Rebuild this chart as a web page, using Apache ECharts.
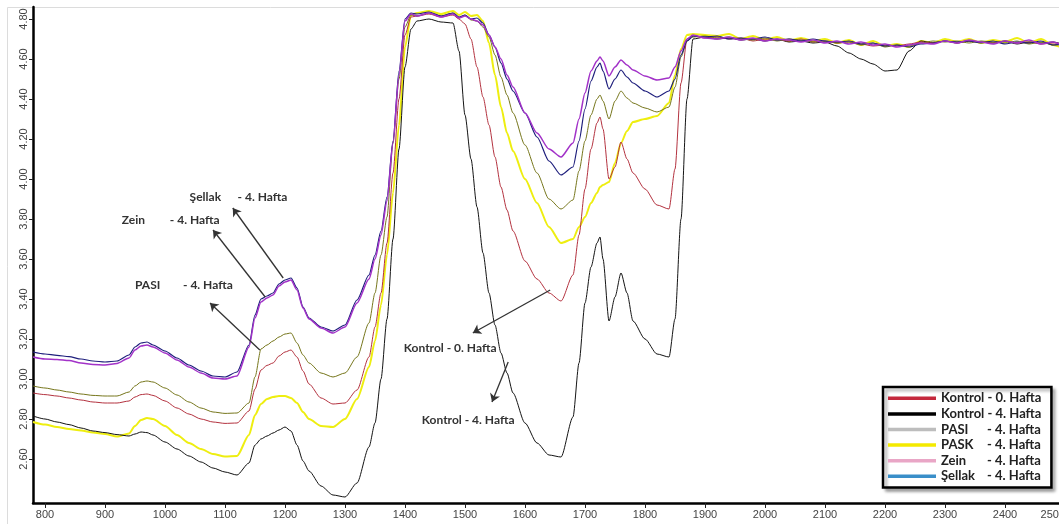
<!DOCTYPE html>
<html>
<head>
<meta charset="utf-8">
<script src="https://cdn.jsdelivr.net/npm/echarts@6/dist/echarts.min.js"></script>
<style>
html, body { margin: 0; padding: 0; background: #fff; }
#chart { width: 1059px; height: 524px; }
</style>
</head>
<body>
<div id="chart"></div>
<script>
// Wavenumber grid shared by all spectra
const wavenumbers = [
  780, 800, 820, 840, 860, 880, 900, 920, 940,
  950, 960, 970, 980,
  1000, 1020, 1040, 1060, 1080, 1100, 1120, 1140,
  1150, 1160, 1170, 1180, 1190, 1200, 1210, 1220, 1230,
  1240, 1260, 1280, 1300, 1320, 1340,
  1350, 1360, 1370, 1380, 1390, 1400, 1410, 1420,
  1440, 1460, 1480,
  1490, 1500, 1510, 1520, 1530, 1540, 1550, 1560, 1570, 1580,
  1600, 1620, 1640, 1660, 1680,
  1690, 1700, 1710, 1720, 1725, 1730, 1740, 1750, 1760, 1770, 1780,
  1800, 1820, 1840,
  1850, 1860, 1870, 1880,
  1900, 1920, 1940, 1960, 1980, 2000, 2020, 2040, 2060, 2080, 2100,
  2120, 2140, 2160, 2180, 2200, 2220, 2240, 2260, 2280, 2300,
  2320, 2340, 2360, 2380, 2400, 2420, 2440, 2460, 2480, 2500
];

const kontrol0 = [
  2.930, 2.922, 2.915, 2.905, 2.895, 2.885, 2.880, 2.880, 2.890,
  2.910, 2.922, 2.925, 2.918,
  2.890, 2.855, 2.825, 2.800, 2.785, 2.778, 2.780, 2.840,
  2.950, 3.045, 3.068, 3.080, 3.115, 3.135, 3.145, 3.110, 3.040,
  2.975, 2.905, 2.875, 2.880, 2.945, 3.110,
  3.260, 3.430, 3.680, 4.030, 4.400, 4.720, 4.810, 4.815,
  4.825, 4.810, 4.820,
  4.800, 4.775, 4.700, 4.560, 4.410, 4.270, 4.110, 3.960, 3.845, 3.740,
  3.590, 3.500, 3.430, 3.390, 3.520,
  3.720, 3.950, 4.150, 4.280, 4.310, 4.250, 4.000, 4.060, 4.185, 4.100, 4.030,
  3.950, 3.870, 3.850,
  4.050, 4.480, 4.700, 4.715,
  4.705, 4.710, 4.700, 4.705, 4.690, 4.700, 4.695, 4.690, 4.700, 4.685, 4.690,
  4.680, 4.685, 4.675, 4.665, 4.670, 4.665, 4.675, 4.685, 4.680, 4.690,
  4.680, 4.690, 4.685, 4.680, 4.690, 4.680, 4.685, 4.675, 4.680, 4.675
];

const kontrol4 = [
  2.815, 2.800, 2.785, 2.772, 2.755, 2.740, 2.732, 2.722, 2.715,
  2.725, 2.735, 2.732, 2.720,
  2.685, 2.650, 2.615, 2.585, 2.555, 2.535, 2.520, 2.580,
  2.670, 2.700, 2.715, 2.730, 2.745, 2.760, 2.740, 2.670, 2.590,
  2.540, 2.465, 2.420, 2.410, 2.480, 2.660,
  2.780, 3.000, 3.300, 3.700, 4.150, 4.560, 4.750, 4.790,
  4.800, 4.785, 4.780,
  4.640, 4.320, 4.100, 3.860, 3.630, 3.430, 3.270, 3.130, 3.030, 2.930,
  2.780, 2.680, 2.620, 2.610, 2.810,
  3.080, 3.380, 3.560, 3.680, 3.710, 3.600, 3.290, 3.410, 3.530, 3.430, 3.290,
  3.200, 3.125, 3.110,
  3.300, 3.800, 4.400, 4.700,
  4.710, 4.700, 4.705, 4.695, 4.700, 4.690, 4.700, 4.685, 4.690, 4.680, 4.685,
  4.665, 4.630, 4.600, 4.575, 4.540, 4.545, 4.640, 4.690, 4.680, 4.690,
  4.680, 4.690, 4.685, 4.680, 4.690, 4.675, 4.685, 4.680, 4.685, 4.670
];

const pasi = [
  2.965, 2.955, 2.945, 2.935, 2.925, 2.918, 2.915, 2.915, 2.935,
  2.965, 2.985, 2.990, 2.985,
  2.955, 2.920, 2.885, 2.855, 2.835, 2.828, 2.830, 2.880,
  3.010, 3.150, 3.170, 3.190, 3.210, 3.225, 3.230, 3.180, 3.120,
  3.080, 3.030, 3.010, 3.030, 3.110, 3.280,
  3.430, 3.620, 3.810, 4.180, 4.500, 4.760, 4.820, 4.815,
  4.830, 4.815, 4.830,
  4.805, 4.820, 4.795, 4.790, 4.760, 4.710, 4.620, 4.510, 4.420, 4.330,
  4.170, 4.030, 3.900, 3.850, 3.895,
  4.040, 4.190, 4.320, 4.400, 4.420, 4.390, 4.300, 4.390, 4.440, 4.405, 4.380,
  4.355, 4.335, 4.360,
  4.460, 4.610, 4.690, 4.710,
  4.715, 4.705, 4.710, 4.700, 4.695, 4.705, 4.690, 4.700, 4.695, 4.685, 4.690,
  4.680, 4.685, 4.670, 4.680, 4.660, 4.670, 4.665, 4.680, 4.690, 4.685,
  4.690, 4.680, 4.690, 4.685, 4.680, 4.690, 4.675, 4.685, 4.670, 4.680
];

const pask = [
  2.785, 2.772, 2.760, 2.750, 2.742, 2.733, 2.725, 2.712, 2.728,
  2.765, 2.795, 2.805, 2.800,
  2.765, 2.720, 2.680, 2.650, 2.625, 2.612, 2.615, 2.720,
  2.820, 2.875, 2.900, 2.910, 2.915, 2.915, 2.905, 2.880, 2.835,
  2.800, 2.765, 2.760, 2.800, 2.900, 3.060,
  3.190, 3.370, 3.620, 3.930, 4.270, 4.660, 4.820, 4.830,
  4.840, 4.825, 4.840,
  4.820, 4.835, 4.815, 4.820, 4.790, 4.680, 4.520, 4.360, 4.230, 4.140,
  4.000, 3.880, 3.760, 3.680, 3.700,
  3.760, 3.810, 3.880, 3.930, 3.960, 3.970, 3.985, 4.080, 4.180, 4.240, 4.285,
  4.300, 4.315, 4.380,
  4.520, 4.650, 4.720, 4.725,
  4.720, 4.715, 4.725, 4.700, 4.715, 4.695, 4.710, 4.690, 4.705, 4.690, 4.700,
  4.680, 4.695, 4.670, 4.690, 4.665, 4.675, 4.660, 4.690, 4.680, 4.700,
  4.685, 4.700, 4.680, 4.695, 4.685, 4.705, 4.680, 4.700, 4.670, 4.650
];

const zein = [
  3.110, 3.100, 3.098, 3.092, 3.080, 3.072, 3.070, 3.078, 3.105,
  3.145, 3.165, 3.170, 3.160,
  3.130, 3.095, 3.060, 3.030, 3.005, 3.000, 3.015, 3.160,
  3.305, 3.385, 3.405, 3.420, 3.465, 3.485, 3.495, 3.445, 3.355,
  3.300, 3.255, 3.230, 3.260, 3.380, 3.500,
  3.600, 3.720, 3.890, 4.180, 4.520, 4.790, 4.825, 4.815,
  4.830, 4.810, 4.825,
  4.805, 4.815, 4.800, 4.790, 4.770, 4.720, 4.660, 4.600, 4.520, 4.460,
  4.330, 4.230, 4.150, 4.110, 4.180,
  4.300, 4.430, 4.540, 4.590, 4.610, 4.590, 4.515, 4.560, 4.595, 4.570, 4.545,
  4.515, 4.495, 4.505,
  4.560, 4.640, 4.700, 4.720,
  4.705, 4.700, 4.710, 4.695, 4.705, 4.690, 4.700, 4.695, 4.685, 4.695, 4.680,
  4.690, 4.675, 4.685, 4.670, 4.675, 4.660, 4.670, 4.680, 4.675, 4.690,
  4.680, 4.695, 4.685, 4.675, 4.690, 4.680, 4.695, 4.675, 4.685, 4.660
];

const sellak = [
  3.135, 3.125, 3.118, 3.112, 3.100, 3.090, 3.085, 3.090, 3.120,
  3.160, 3.180, 3.185, 3.170,
  3.140, 3.105, 3.070, 3.040, 3.015, 3.010, 3.035, 3.170,
  3.320, 3.400, 3.415, 3.430, 3.475, 3.495, 3.505, 3.455, 3.360,
  3.305, 3.260, 3.240, 3.270, 3.395, 3.520,
  3.620, 3.740, 3.910, 4.190, 4.540, 4.800, 4.830, 4.825,
  4.835, 4.815, 4.830,
  4.810, 4.820, 4.800, 4.805, 4.780, 4.720, 4.660, 4.580, 4.500, 4.440,
  4.330, 4.210, 4.090, 4.020, 4.060,
  4.190, 4.350, 4.490, 4.560, 4.580, 4.540, 4.450, 4.500, 4.545, 4.510, 4.480,
  4.440, 4.410, 4.440,
  4.500, 4.620, 4.690, 4.715,
  4.710, 4.715, 4.700, 4.705, 4.700, 4.710, 4.695, 4.700, 4.690, 4.700, 4.690,
  4.685, 4.690, 4.675, 4.680, 4.665, 4.670, 4.660, 4.675, 4.680, 4.690,
  4.685, 4.690, 4.680, 4.690, 4.675, 4.685, 4.680, 4.690, 4.670, 4.675
];

// Axis tick values
const xTicks = [800, 900, 1000, 1100, 1200, 1300, 1400, 1500, 1600, 1700, 1800,
  1900, 2000, 2100, 2200, 2300, 2400, 2500];
const yTicks = [2.6, 2.8, 3.0, 3.2, 3.4, 3.6, 3.8, 4.0, 4.2, 4.4, 4.6, 4.8];

// Callout texts: [name, suffix, x, y] (left-middle anchor in data units)
const callouts = [
  ['Şellak', '- 4. Hafta', 1041, 3.91],
  ['Zein', '- 4. Hafta', 928, 3.795],
  ['PASI', '- 4. Hafta', 950, 3.47],
  ['Kontrol - 0. Hafta', '', 1398, 3.155],
  ['Kontrol - 4. Hafta', '', 1428, 2.795]
];
// Callout arrows: [fromX, fromY, toX, toY]
const calloutArrows = [
  [1197, 3.505, 1113, 3.855],
  [1167, 3.41, 1080, 3.745],
  [1158, 3.145, 1075, 3.38],
  [1642, 3.445, 1513, 3.23],
  [1572, 3.085, 1545, 2.885]
];

const legendNames = ['Kontrol - 0. Hafta', 'Kontrol - 4. Hafta', 'PASI - 4. Hafta',
  'PASK - 4. Hafta', 'Zein - 4. Hafta', 'Şellak - 4. Hafta'];
const legendSwatch = ['#c4283c', '#000000', '#bdbdbd', '#f4ea00', '#e9a6c6', '#3a8fc9'];

const zip = ys => wavenumbers.map((x, i) => [x, ys[i]]);

// Drawing order: yellow underneath, magenta on top
const spectra = [
  { name: 'PASK - 4. Hafta', data: pask, color: '#eeee10', width: 2 },
  { name: 'Kontrol - 4. Hafta', data: kontrol4, color: '#141414', width: 1 },
  { name: 'Kontrol - 0. Hafta', data: kontrol0, color: '#b3323f', width: 1 },
  { name: 'PASI - 4. Hafta', data: pasi, color: '#76761c', width: 1 },
  { name: 'Şellak - 4. Hafta', data: sellak, color: '#1e1e7c', width: 1.2 },
  { name: 'Zein - 4. Hafta', data: zein, color: '#a232c8', width: 1.5 }
];

const FONT = 'Lato';
const chart = echarts.init(document.getElementById('chart'), null, { renderer: 'canvas' });

const series = spectra.map(s => ({
  type: 'line',
  name: s.name,
  data: zip(s.data),
  showSymbol: false,
  symbol: 'none',
  smooth: 0.25,
  smoothMonotone: 'x',
  animation: false,
  lineStyle: { color: s.color, width: s.width },
  itemStyle: { color: s.color }
}));

series.push({
  type: 'line',
  name: 'callouts',
  data: [],
  silent: true,
  animation: false,
  markLine: {
    silent: true,
    animation: false,
    symbol: ['none', 'arrow'],
    symbolSize: 8,
    lineStyle: { color: '#333', width: 1.3, type: 'solid' },
    label: { show: false },
    data: calloutArrows.map(a => [
      { coord: [a[0], a[1]] },
      { coord: [a[2], a[3]] }
    ])
  },
  markPoint: {
    silent: true,
    animation: false,
    symbol: 'circle',
    symbolSize: 0,
    label: {
      show: true,
      position: 'right',
      distance: 0,
      color: '#333',
      fontFamily: FONT,
      fontWeight: 'bold',
      fontSize: 12,
      rich: {
        a: { width: 48, color: '#333', fontFamily: FONT, fontWeight: 'bold', fontSize: 12 },
        b: { color: '#333', fontFamily: FONT, fontWeight: 'bold', fontSize: 12 }
      }
    },
    data: callouts.map(c => ({
      coord: [c[2], c[3]],
      label: { formatter: c[1] ? '{a|' + c[0] + '}{b|' + c[1] + '}' : c[0] }
    }))
  }
});

chart.setOption({
  backgroundColor: '#ffffff',
  animation: false,
  grid: { left: 33, top: 7, width: 1032, height: 496, outerBoundsMode: 'none', containLabel: false },
  xAxis: {
    type: 'value',
    min: 780,
    max: 2500,
    splitLine: { show: false },
    axisLine: { show: true, lineStyle: { color: '#000', width: 2.5 } },
    axisTick: { show: true, customValues: xTicks, length: 5, lineStyle: { color: '#222', width: 1 } },
    axisLabel: {
      customValues: xTicks,
      color: '#444',
      fontFamily: 'Liberation Sans',
      fontSize: 11,
      margin: 6,
      alignMaxLabel: 'right',
      formatter: v => String(v)
    }
  },
  yAxis: {
    type: 'value',
    min: 2.38,
    max: 4.86,
    splitLine: { show: false },
    axisLine: { show: true, lineStyle: { color: '#000', width: 2.5 } },
    axisTick: { show: true, customValues: yTicks, length: 4, lineStyle: { color: '#222', width: 1 } },
    axisLabel: {
      customValues: yTicks,
      rotate: 90,
      color: '#444',
      fontFamily: 'Liberation Sans',
      fontSize: 11,
      margin: 4,
      formatter: v => v.toFixed(2)
    }
  },
  legend: {
    orient: 'vertical',
    left: 883,
    top: 387,
    padding: [4, 10, 4, 5],
    itemGap: 1,
    itemWidth: 48,
    itemHeight: 3.5,
    icon: 'rect',
    backgroundColor: '#fff',
    borderColor: '#000',
    borderWidth: 2.5,
    shadowColor: 'rgba(0,0,0,0.3)',
    shadowBlur: 3,
    shadowOffsetX: 3,
    shadowOffsetY: 3,
    selectedMode: false,
    data: legendNames.map((n, i) => ({ name: n, icon: 'rect', itemStyle: { color: legendSwatch[i] } })),
    formatter: name => {
      const parts = name.split(' - ');
      if (parts[0] === 'Kontrol') return '{k|' + name + '}';
      return '{a|' + parts[0] + '}{b|- ' + parts[1] + '}';
    },
    textStyle: {
      fontFamily: FONT,
      fontWeight: 'bold',
      fontSize: 13,
      color: '#222',
      lineHeight: 14.6,
      rich: {
        k: { fontFamily: FONT, fontWeight: 'bold', fontSize: 13, color: '#222', lineHeight: 14.6 },
        a: { width: 46, fontFamily: FONT, fontWeight: 'bold', fontSize: 13, color: '#222', lineHeight: 14.6 },
        b: { fontFamily: FONT, fontWeight: 'bold', fontSize: 13, color: '#222', lineHeight: 14.6 }
      }
    }
  },
  graphic: [{
    type: 'rect',
    silent: true,
    z: -10,
    shape: { x: 7.5, y: 7.5, width: 1100, height: 600 },
    style: { fill: null, stroke: '#dcdcdc', lineWidth: 1 }
  }],
  series: series
});
</script>
</body>
</html>
